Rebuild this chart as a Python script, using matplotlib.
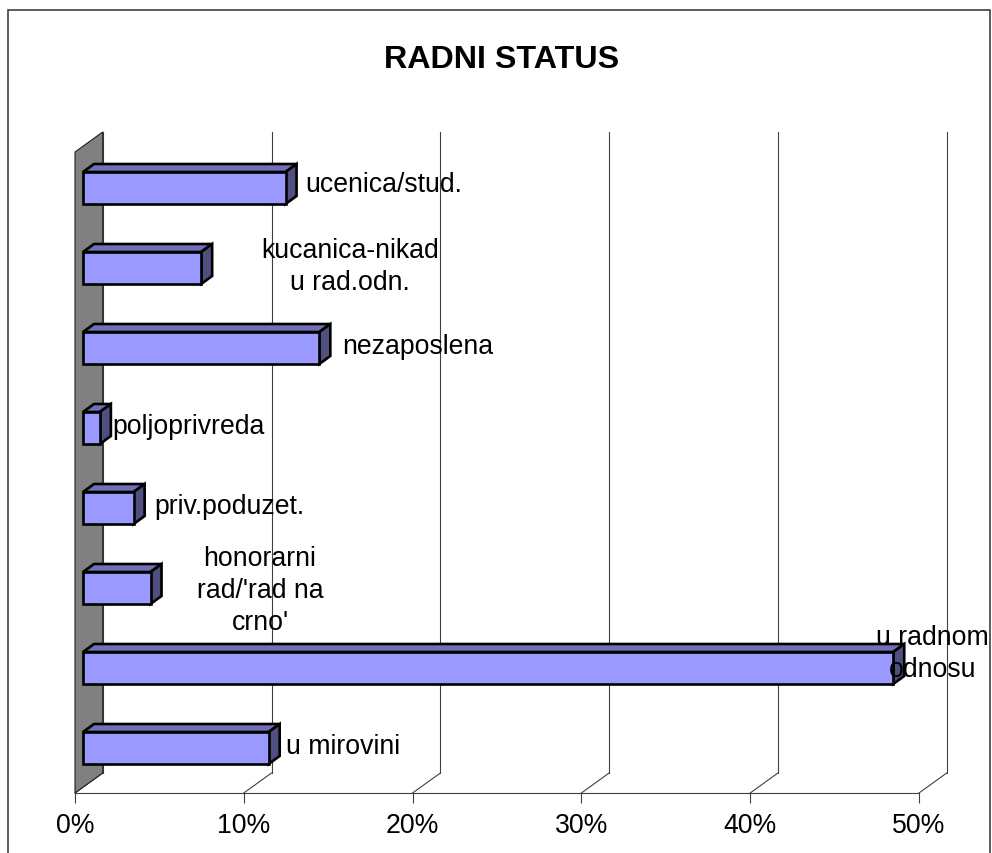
import matplotlib
matplotlib.use("Agg")
import matplotlib.pyplot as plt
from matplotlib.patches import Polygon, Rectangle

plt.rcParams['font.family'] = ['Liberation Sans', 'DejaVu Sans']

# data, bottom bar first
categories = ["u mirovini", "u radnom\nodnosu", "honorarni\nrad/'rad na\ncrno'", "priv.poduzet.",
              "poljoprivreda", "nezaposlena", "kucanica-nikad\nu rad.odn.", "ucenica/stud."]
values = [11, 48, 4, 3, 1, 14, 7, 12]
x_ticks = [0, 10, 20, 30, 40, 50]
x_tick_labels = ["0%", "10%", "20%", "30%", "40%", "50%"]
title = "RADNI STATUS"

# label centres are placed by hand, like in the original (percent, category)
label_x = [15.9, 50.8, 10.96, 9.15, 6.7, 20.3, 16.3, 18.3]
label_y = [0.03, 1.19, 1.98, 3.03, 4.03, 5.03, 6.03, 7.05]

# 3d look, sizes in data units
PX_X = 844 / 50  # pixels for one percent
PX_Y = 80        # pixels for one category
WALL_DX = 27.7 / PX_X
WALL_DY = 20 / PX_Y
BAR_START = 8 / PX_X
BAR_DX = 11 / PX_X
BAR_DY = 8 / PX_Y
BAR_H = 32 / PX_Y
Y_BOTTOM = -45 / PX_Y
Y_TOP = 616 / PX_Y
LINE = "#404040"

fig = plt.figure(figsize=(9.92, 8.54), dpi=100)
ax = fig.add_axes([75 / 992, 60 / 854, 844 / 992, 661 / 854])
ax.set_xlim(0, 50)
ax.set_ylim(Y_BOTTOM, Y_TOP)
ax.patch.set_visible(False)
for side in ["top", "left", "right"]:
    ax.spines[side].set_visible(False)
ax.spines["bottom"].set_color(LINE)
ax.spines["bottom"].set_linewidth(0.8)
ax.set_yticks([])
ax.set_xticks(x_ticks)
ax.set_xticklabels(x_tick_labels, fontsize=19.2)
ax.tick_params(axis="x", length=7.5, width=0.8, color=LINE, pad=6.5)

# outer frame and title
fig.add_artist(Rectangle((8 / 992, -0.01), 982 / 992, 1.01 - 11 / 854, transform=fig.transFigure,
                         fill=False, edgecolor="#303030", linewidth=1.1))
fig.text(502 / 992, 1 - 60 / 854, title, fontsize=23.2, fontweight="bold", ha="center", va="center")

# back wall grid and floor
for t in x_ticks:
    ax.plot([t + WALL_DX, t + WALL_DX], [Y_BOTTOM + WALL_DY, Y_TOP], color=LINE, lw=0.8,
            clip_on=False, zorder=1)
    ax.plot([t, t + WALL_DX], [Y_BOTTOM, Y_BOTTOM + WALL_DY], color=LINE, lw=0.8,
            clip_on=False, zorder=1)

# grey side wall
ax.add_patch(Polygon([(0, Y_BOTTOM), (WALL_DX, Y_BOTTOM + WALL_DY), (WALL_DX, Y_TOP), (0, Y_TOP - WALL_DY)],
                     facecolor="#808080", edgecolor="#202020", linewidth=0.8, clip_on=False, zorder=2))

# bars
for i, v in enumerate(values):
    low = i - BAR_H / 2
    high = i + BAR_H / 2
    x0 = BAR_START
    x1 = BAR_START + v
    ax.add_patch(Polygon([(x0, high), (x0 + BAR_DX, high + BAR_DY), (x1 + BAR_DX, high + BAR_DY), (x1, high)],
                         facecolor="#7070B8", edgecolor="black", linewidth=1.9, clip_on=False, zorder=3))
    ax.add_patch(Polygon([(x1, low), (x1 + BAR_DX, low + BAR_DY), (x1 + BAR_DX, high + BAR_DY), (x1, high)],
                         facecolor="#4F4F80", edgecolor="black", linewidth=1.9, clip_on=False, zorder=3))
    ax.add_patch(Rectangle((x0, low), v, BAR_H, facecolor="#9999FF", edgecolor="black", linewidth=1.9,
                           clip_on=False, zorder=4))

for name, lx, ly in zip(categories, label_x, label_y):
    ax.text(lx, ly, name, fontsize=19.2, ha="center", va="center", linespacing=1.3, clip_on=False, zorder=5)

fig.savefig("out.png", dpi=100)
